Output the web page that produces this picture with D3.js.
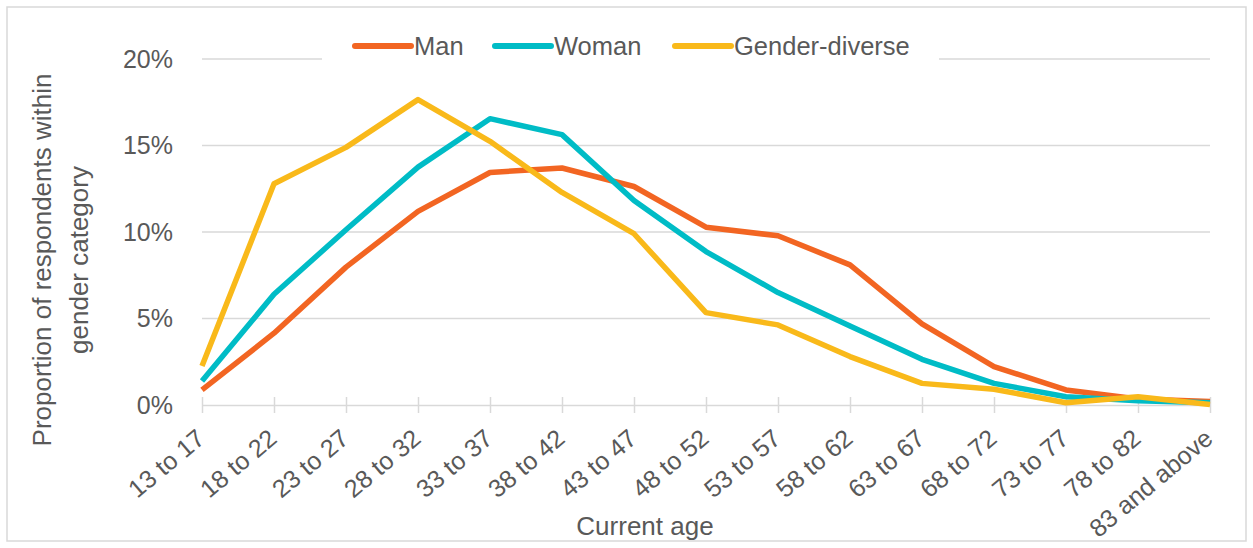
<!DOCTYPE html>
<html>
<head>
<meta charset="utf-8">
<script src="https://cdn.jsdelivr.net/npm/d3@7"></script>
<style>
  body { margin: 0; background: #fff; }
  svg text { font-family: 'Liberation Sans', Arial, sans-serif; fill: #595959; }
  .grid line { stroke: #d9d9d9; stroke-width: 1.5; }
  .x-axis path, .x-axis line { stroke: #d9d9d9; stroke-width: 1.5; }
  .chart-line { fill: none; stroke-width: 5.5; stroke-linejoin: round; }
</style>
</head>
<body>
<svg id="chart"></svg>
<script>
// age groups along the x axis
const ageGroups = ['13 to 17', '18 to 22', '23 to 27', '28 to 32', '33 to 37', '38 to 42', '43 to 47',
  '48 to 52', '53 to 57', '58 to 62', '63 to 67', '68 to 72', '73 to 77', '78 to 82', '83 and above'];

// share of respondents (%) per gender category
const manValues = [0.87, 4.15, 7.97, 11.19, 13.44, 13.7, 12.63, 10.28, 9.78, 8.1, 4.69, 2.22, 0.87, 0.35, 0.2];
const womanValues = [1.39, 6.4, 10.13, 13.75, 16.55, 15.63, 11.82, 8.87, 6.5, 4.57, 2.64, 1.25, 0.48, 0.25, 0.13];
const diverseValues = [2.25, 12.79, 14.89, 17.65, 15.24, 12.29, 9.9, 5.34, 4.63, 2.8, 1.25, 0.91, 0.13, 0.48, 0.03];

const seriesNames = ['Man', 'Woman', 'Gender-diverse'];
const seriesColors = ['#f26522', '#00bcc6', '#f9b91a'];
const yTicks = [0, 5, 10, 15, 20];

class LineChart {

  constructor(_config) {
    this.config = {
      parentElement: _config.parentElement,
      containerWidth: _config.containerWidth || 1253,
      containerHeight: _config.containerHeight || 548,
      margin: _config.margin || {top: 59, right: 43, bottom: 143, left: 202}
    };
    this.series = seriesNames.map((name, i) => ({
      name: name,
      color: seriesColors[i],
      values: [manValues, womanValues, diverseValues][i]
    }));
    this.initVis();
  }

  initVis() {
    let vis = this;

    vis.width = vis.config.containerWidth - vis.config.margin.left - vis.config.margin.right;
    vis.height = vis.config.containerHeight - vis.config.margin.top - vis.config.margin.bottom;

    vis.svg = d3.select(vis.config.parentElement)
        .attr('width', vis.config.containerWidth)
        .attr('height', vis.config.containerHeight);

    // outer chart border
    vis.svg.append('rect')
        .attr('x', 7).attr('y', 7)
        .attr('width', vis.config.containerWidth - 14)
        .attr('height', vis.config.containerHeight - 14)
        .attr('fill', '#fff')
        .attr('stroke', '#d9d9d9')
        .attr('stroke-width', 1.5);

    vis.chart = vis.svg.append('g')
        .attr('transform', `translate(${vis.config.margin.left},${vis.config.margin.top})`);

    vis.xScale = d3.scalePoint()
        .domain(ageGroups)
        .range([0, vis.width]);

    vis.yScale = d3.scaleLinear()
        .domain([0, 20])
        .range([vis.height, 0]);

    vis.xAxis = d3.axisBottom(vis.xScale)
        .tickSizeInner(8)
        .tickSizeOuter(0)
        .tickPadding(10);

    vis.yAxis = d3.axisLeft(vis.yScale)
        .tickValues(yTicks)
        .tickFormat(d => d + '%')
        .tickSize(0)
        .tickPadding(29);

    // horizontal gridlines
    vis.chart.append('g')
        .attr('class', 'grid')
        .selectAll('line')
        .data(yTicks.filter(d => d > 0))
        .join('line')
          .attr('x1', 0)
          .attr('x2', vis.width)
          .attr('y1', d => vis.yScale(d))
          .attr('y2', d => vis.yScale(d));

    vis.xAxisG = vis.chart.append('g')
        .attr('class', 'x-axis')
        .attr('transform', `translate(0,${vis.height})`);

    vis.yAxisG = vis.chart.append('g')
        .attr('class', 'y-axis');

    // axis titles
    vis.svg.append('text')
        .attr('text-anchor', 'middle')
        .attr('font-size', 26)
        .attr('transform', `translate(51, 260)rotate(-90)`)
        .selectAll('tspan')
        .data(['Proportion of respondents within', 'gender category'])
        .join('tspan')
          .attr('x', 0)
          .attr('dy', (d, i) => i === 0 ? 0 : 37)
          .text(d => d);

    vis.svg.append('text')
        .attr('text-anchor', 'middle')
        .attr('font-size', 26)
        .attr('x', 645)
        .attr('y', 535)
        .text('Current age');

    vis.updateVis();
  }

  updateVis() {
    let vis = this;

    vis.line = d3.line()
        .x((d, i) => vis.xScale(ageGroups[i]))
        .y(d => vis.yScale(d));

    vis.renderVis();
  }

  renderVis() {
    let vis = this;

    vis.xAxisG.call(vis.xAxis);
    vis.xAxisG.selectAll('line').attr('y1', -8);
    vis.xAxisG.selectAll('text')
        .attr('font-size', 25)
        .attr('font-family', null)
        .attr('fill', '#595959')
        .attr('text-anchor', 'end')
        .attr('dy', 0)
        .attr('y', 0)
        .attr('transform', 'translate(4,36)rotate(-40)');

    vis.yAxisG.call(vis.yAxis);
    vis.yAxisG.select('.domain').remove();
    vis.yAxisG.selectAll('text')
        .attr('font-size', 25)
        .attr('font-family', null)
        .attr('fill', '#595959');

    vis.chart.selectAll('.chart-line')
        .data(vis.series)
        .join('path')
          .attr('class', 'chart-line')
          .attr('stroke', d => d.color)
          .attr('d', d => vis.line(d.values));

    // legend with white backing over the top gridline
    vis.svg.append('rect')
        .attr('x', 322).attr('y', 28)
        .attr('width', 617).attr('height', 40)
        .attr('fill', '#fff');

    const legendX = [355, 495, 675];
    const legend = vis.svg.append('g')
        .selectAll('g')
        .data(vis.series)
        .join('g')
          .attr('transform', (d, i) => `translate(${legendX[i]}, 46)`);

    legend.append('line')
        .attr('x1', 0).attr('x2', 56)
        .attr('stroke', d => d.color)
        .attr('stroke-width', 6)
        .attr('stroke-linecap', 'round');

    legend.append('text')
        .attr('x', 59)
        .attr('dy', '0.35em')
        .attr('font-size', 25.5)
        .text(d => d.name);
  }
}

new LineChart({ parentElement: '#chart' });
</script>
</body>
</html>
